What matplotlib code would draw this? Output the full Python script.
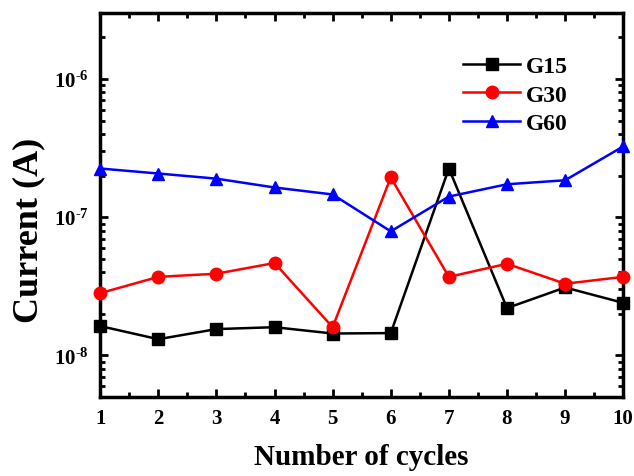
import numpy as np
import matplotlib
matplotlib.use('Agg')
import matplotlib.pyplot as plt
from matplotlib import rcParams
from matplotlib.ticker import LogLocator, FuncFormatter, MultipleLocator, NullFormatter

rcParams['font.family'] = 'Liberation Serif'
rcParams['font.weight'] = 'bold'
rcParams['mathtext.fontset'] = 'custom'
rcParams['mathtext.rm'] = 'Liberation Serif:bold'
rcParams['mathtext.bf'] = 'Liberation Serif:bold'
rcParams['mathtext.it'] = 'Liberation Serif:bold'

cycles = [1, 2, 3, 4, 5, 6, 7, 8, 9, 10]
g15 = [1.63e-8, 1.31e-8, 1.55e-8, 1.6e-8, 1.44e-8, 1.45e-8, 2.25e-7, 2.2e-8, 3.1e-8, 2.4e-8]
g30 = [2.82e-8, 3.7e-8, 3.9e-8, 4.66e-8, 1.6e-8, 1.94e-7, 3.7e-8, 4.6e-8, 3.3e-8, 3.7e-8]
g60 = [2.25e-7, 2.07e-7, 1.9e-7, 1.64e-7, 1.46e-7, 7.9e-8, 1.41e-7, 1.73e-7, 1.85e-7, 3.25e-7]

fig = plt.figure(figsize=(6.34, 4.77), dpi=100)
ax = fig.add_axes([0.158, 0.1656, 0.825, 0.805])

ax.plot(cycles, g15, color='black', marker='s', ms=8, lw=1.8, label='G15', clip_on=False, zorder=3)
ax.plot(cycles, g30, color='red', marker='o', ms=9, lw=1.8, label='G30', clip_on=False, zorder=3)
ax.plot(cycles, g60, color='blue', marker='^', ms=9, lw=1.8, label='G60', clip_on=False, zorder=3)

ax.set_yscale('log')
ax.set_xlim(1, 10)
ax.set_ylim(5e-9, 3e-6)

ax.xaxis.set_major_locator(MultipleLocator(1))
ax.xaxis.set_minor_locator(MultipleLocator(0.5))
ax.yaxis.set_major_locator(LogLocator(base=10, numticks=10))
ax.yaxis.set_minor_locator(LogLocator(base=10, subs=np.arange(2, 10), numticks=10))
ax.yaxis.set_minor_formatter(NullFormatter())
ax.yaxis.set_major_formatter(FuncFormatter(lambda v, p: r'$10^{\text{-%d}}$' % abs(round(np.log10(v)))))

ax.tick_params(which='both', direction='in', top=True, right=True, width=2)
ax.tick_params(which='major', length=6, labelsize=15, pad=8)
ax.tick_params(which='minor', length=3.5)
for s in ax.spines.values():
    s.set_linewidth(2.5)

ax.set_xlabel('Number of cycles', fontsize=21, fontweight='bold')
ax.set_ylabel('Current (A)', fontsize=26, fontweight='bold')
ax.xaxis.set_label_coords(0.5, -0.12)
ax.yaxis.set_label_coords(-0.105, 0.4375)

leg = ax.legend(loc='upper right', bbox_to_anchor=(0.935, 0.945), frameon=False, fontsize=17,
                handlelength=2.4, handletextpad=0.25, labelspacing=0.3)

plt.savefig('out.png', dpi=100)
